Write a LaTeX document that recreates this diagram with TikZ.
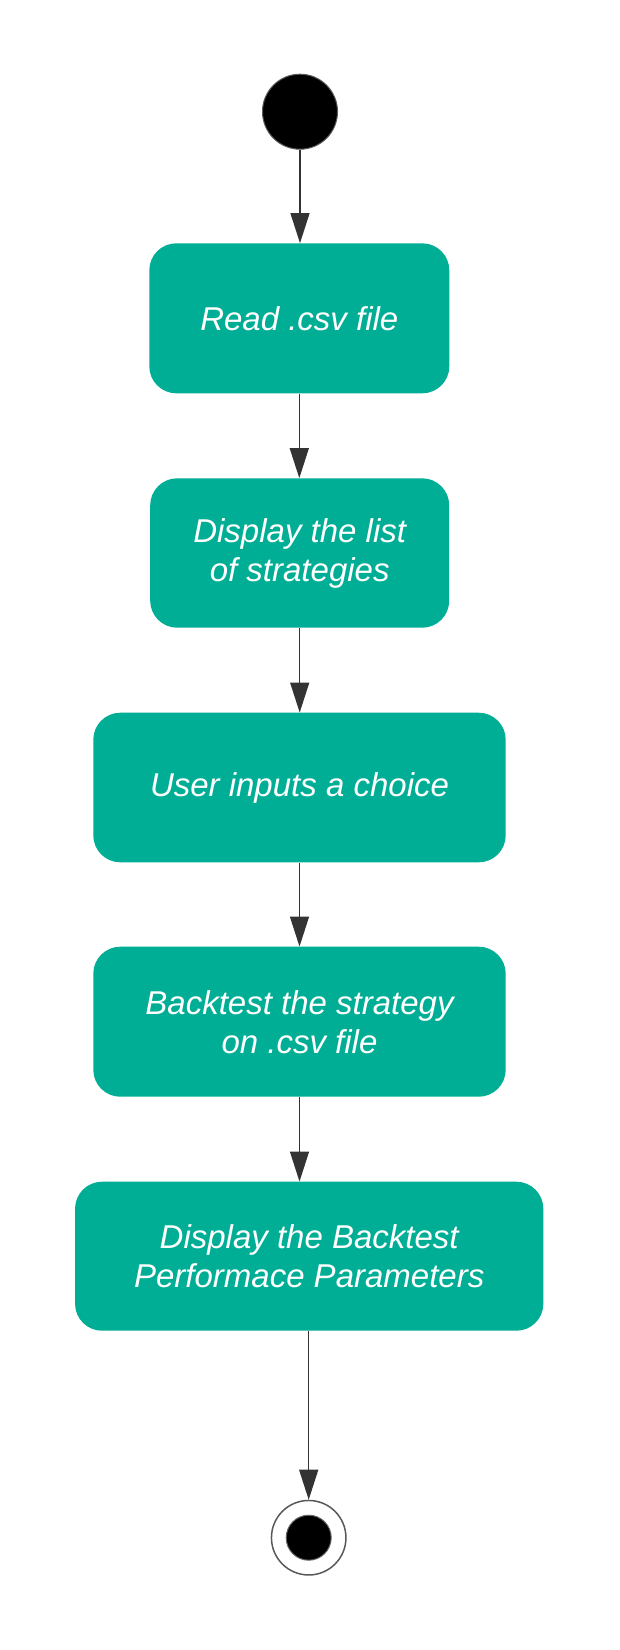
\documentclass[tikz,border=0pt]{standalone}
\usepackage{fontspec}
\setmainfont{Liberation Sans}
\usetikzlibrary{arrows.meta}
\definecolor{teal1}{RGB}{0,174,150}
\definecolor{arr}{RGB}{51,51,51}
\begin{document}
\begin{tikzpicture}[x=1pt,y=-1pt,
  actbox/.style={rectangle, rounded corners=27pt, fill=teal1, draw=none, inner sep=0pt,
    text=white, align=center, font=\fontsize{33}{39}\selectfont\itshape},
  flow/.style={draw=arr, line width=1.4pt, -{Triangle[length=30pt,width=19pt]}}
]
\useasboundingbox (0,0) rectangle (619,1650);
\fill[white] (0,0) rectangle (619,1650);

\node[circle, fill=black, draw=black!65, line width=1pt, minimum size=75pt, inner sep=0pt] (start) at (300,111.7) {};

\node[actbox, minimum width=300pt, minimum height=150pt] (b1) at (299.3,318.3) {Read .csv file};
\node[actbox, minimum width=299pt, minimum height=149.4pt] (b2) at (299.7,553) {Display the list\\of strategies};
\node[actbox, minimum width=412.4pt, minimum height=149.6pt] (b3) at (299.5,787.5) {User inputs a choice};
\node[actbox, minimum width=412.4pt, minimum height=150pt] (b4) at (299.5,1021.7) {Backtest the strategy\\on .csv file};
\node[actbox, minimum width=468.3pt, minimum height=149pt] (b5) at (309.2,1256.2) {Display the Backtest\\Performace Parameters};

\node[circle, fill=white, draw=black!65, line width=1.5pt, minimum size=74.5pt, inner sep=0pt] (end) at (308.7,1537.7) {};
\node[circle, fill=black, draw=black!60, line width=1pt, minimum size=45pt, inner sep=0pt] (endin) at (end.center) {};

\draw[flow] (start.south) -- (start.south |- b1.north);
\draw[flow] (b1.south) -- (b1.south |- b2.north);
\draw[flow] (b2.south) -- (b2.south |- b3.north);
\draw[flow] (b3.south) -- (b3.south |- b4.north);
\draw[flow] (b4.south) -- (b4.south |- b5.north);
\draw[flow] (end.north |- b5.south) -- (end.north);
\end{tikzpicture}
\end{document}
